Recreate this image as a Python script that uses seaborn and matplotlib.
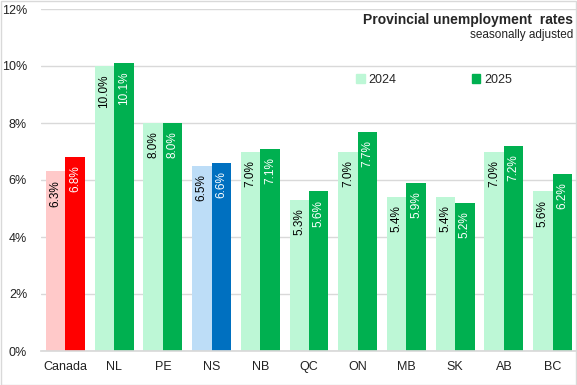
import matplotlib
matplotlib.use('Agg')
import matplotlib.pyplot as plt
import pandas as pd
import seaborn as sns
from matplotlib.patches import Rectangle

# Data
regions = ['Canada', 'NL', 'PE', 'NS', 'NB', 'QC', 'ON', 'MB', 'SK', 'AB', 'BC']
rates_2024 = [6.3, 10.0, 8.0, 6.5, 7.0, 5.3, 7.0, 5.4, 5.4, 7.0, 5.6]
rates_2025 = [6.8, 10.1, 8.0, 6.6, 7.1, 5.6, 7.7, 5.9, 5.2, 7.2, 6.2]
years = ['2024', '2025']

# colours: default green, Canada red, NS blue
light_cols = {'Canada': '#FFC9C9', 'NS': '#BDDDF7'}
dark_cols = {'Canada': '#FF0000', 'NS': '#0070C0'}
mint, green = '#BDF7D6', '#00B050'

df = pd.DataFrame({
    'region': regions * 2,
    'rate': rates_2024 + rates_2025,
    'year': ['2024'] * len(regions) + ['2025'] * len(regions),
})

sns.set_theme(style='white')
plt.rcParams['font.family'] = ['Liberation Sans', 'DejaVu Sans']

fig = plt.figure(figsize=(5.77, 3.85), dpi=100)
ax = fig.add_axes([41 / 577, 1 - 351 / 385, 536 / 577, 342 / 385])

sns.barplot(data=df, x='region', y='rate', hue='year', palette=[mint, green],
            width=0.8, saturation=1, linewidth=0, ax=ax, legend=False)

# recolour Canada and NS bars, add labels
for bars, vals, yr in zip(ax.containers, [rates_2024, rates_2025], years):
    for bar, reg, v in zip(bars, regions, vals):
        bar.set_linewidth(0)
        if yr == '2024':
            bar.set_facecolor(light_cols.get(reg, mint))
            tc = 'black'
        else:
            bar.set_facecolor(dark_cols.get(reg, green))
            tc = 'white'
        ax.annotate(f'{v:.1f}%', (bar.get_x() + bar.get_width() / 2, bar.get_height()),
                    xytext=(0, -6), textcoords='offset points', rotation=90,
                    ha='center', va='top', fontsize=8.5, color=tc)

ax.set_ylim(0, 12)
ax.set_xlim(-0.5, len(regions) - 0.5)
ax.set_yticks(range(0, 13, 2))
ax.set_yticklabels([f'{t}%' for t in range(0, 13, 2)])
ax.yaxis.grid(True, color='#D9D9D9', linewidth=1)
ax.set_axisbelow(True)
ax.set_xlabel('')
ax.set_ylabel('')
ax.tick_params(axis='both', length=0, labelsize=9, colors='#222222')
ax.tick_params(axis='y', pad=10)
ax.tick_params(axis='x', pad=7)
for s in ['top', 'right', 'left']:
    ax.spines[s].set_visible(False)
ax.spines['bottom'].set_color('#D9D9D9')

# legend
handles = [Rectangle((0, 0), 1, 1, color=mint), Rectangle((0, 0), 1, 1, color=green)]
fig.legend(handles, years, loc='center', bbox_to_anchor=(434 / 577, 1 - 80 / 385),
           ncol=2, frameon=False, fontsize=9, handlelength=0.7, handleheight=0.7,
           handletextpad=0.3, columnspacing=6.0)

# title
fig.text(573 / 577, 1 - 20 / 385, 'Provincial unemployment  rates', ha='right', va='center',
         fontsize=10, fontweight='bold')
fig.text(573 / 577, 1 - 35 / 385, 'seasonally adjusted', ha='right', va='center',
         fontsize=8.5, color='#222222')

# light border around the figure
fig.patches.append(Rectangle((0.001, 0.001), 0.997, 0.997, transform=fig.transFigure,
                             fill=False, edgecolor='#D9D9D9', linewidth=1))

fig.savefig('out.png', dpi=100)
